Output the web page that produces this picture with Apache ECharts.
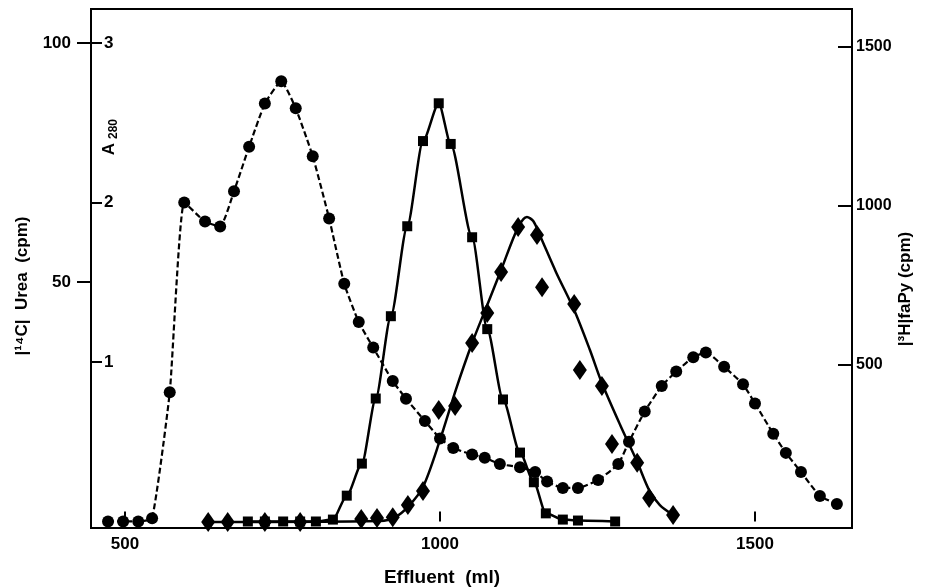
<!DOCTYPE html>
<html>
<head>
<meta charset="utf-8">
<script src="https://cdn.jsdelivr.net/npm/echarts@6/dist/echarts.min.js"></script>
<style>
  html, body { margin: 0; padding: 0; background: #fff; }
  #main-chart { width: 931px; height: 588px; }
</style>
</head>
<body>
<div id="main-chart"></div>
<script>
// effluent volumes (ml) and readings
var circleMl = [473, 497, 521, 543, 571, 594, 627, 651, 673, 697, 722, 748, 771, 798, 824, 848, 871, 894, 925, 946, 976, 1000, 1021, 1051, 1071, 1095, 1127, 1151, 1170, 1195, 1219, 1251, 1283, 1300, 1325, 1352, 1375, 1402, 1422, 1451, 1481, 1500, 1529, 1549, 1573, 1603, 1630];
var circleA280 = [0, 0, 0, 0.02, 0.81, 2.0, 1.88, 1.85, 2.07, 2.35, 2.62, 2.76, 2.59, 2.29, 1.90, 1.49, 1.25, 1.09, 0.88, 0.77, 0.63, 0.52, 0.46, 0.42, 0.40, 0.36, 0.34, 0.31, 0.25, 0.21, 0.21, 0.26, 0.36, 0.50, 0.69, 0.85, 0.94, 1.03, 1.06, 0.97, 0.86, 0.74, 0.55, 0.43, 0.31, 0.16, 0.11];

var squareMl = [695, 722, 751, 778, 803, 830, 852, 876, 898, 922, 948, 973, 998, 1017, 1051, 1075, 1100, 1127, 1149, 1168, 1195, 1219, 1278];
var squareCpm = [0, 0, 0, 0, 0, 0.4, 5.4, 12.1, 25.7, 42.9, 61.7, 79.5, 87.4, 78.9, 59.4, 40.2, 25.5, 14.4, 8.2, 1.7, 0.4, 0.2, 0];

var diamondMl = [632, 663, 722, 778, 875, 900, 925, 949, 973, 998, 1024, 1051, 1075, 1097, 1124, 1154, 1162, 1213, 1222, 1257, 1273, 1313, 1332, 1370];
var diamondCpm = [5, 5, 5, 5, 14, 17, 20, 58, 102, 357, 370, 568, 663, 792, 933, 908, 744, 691, 483, 433, 250, 191, 80, 27];

// hand drawn curve through the diamonds
var fitMl = [632, 905, 929, 949, 973, 1000, 1025, 1051, 1075, 1097, 1124, 1138, 1148, 1159, 1184, 1213, 1238, 1257, 1286, 1313, 1332, 1349, 1370];
var fitCpm = [5, 8, 20, 52, 115, 263, 420, 568, 688, 798, 933, 965, 952, 905, 792, 672, 546, 442, 310, 194, 105, 58, 27];

var xTicks = [500, 1000, 1500];
var ureaTicks = [50, 100];
var a280Ticks = [1, 2, 3];
var fapyTicks = [500, 1000, 1500];

function pairs(xs, ys) {
    var out = [];
    for (var i = 0; i < xs.length; i++) {
        out.push([xs[i], ys[i]]);
    }
    return out;
}

function plain(v) {
    return String(v);
}

var labelFont = {color: '#000', fontFamily: 'Liberation Sans', fontWeight: 'bold', fontSize: 17, formatter: plain};
var textBase = {fill: '#000', textAlign: 'center', textVerticalAlign: 'middle', align: 'center', verticalAlign: 'middle'};

function label(x, y, rot, text, font) {
    return {
        type: 'text', x: x, y: y, rotation: rot,
        style: Object.assign({text: text, font: font}, textBase)
    };
}

var myChart = echarts.init(document.getElementById('main-chart'));

var option = {
    animation: false,
    backgroundColor: '#fff',
    grid: {
        left: 91, right: 79, top: 9, bottom: 60,
        show: true, borderColor: '#000', borderWidth: 2, backgroundColor: 'transparent'
    },
    xAxis: {
        type: 'value', min: 446, max: 1654,
        axisLine: {show: false},
        splitLine: {show: false},
        axisTick: {show: true, inside: true, length: 10, customValues: xTicks, lineStyle: {color: '#000', width: 2}},
        axisLabel: Object.assign({customValues: xTicks, margin: 8}, labelFont)
    },
    yAxis: [
        {
            // |14C| urea, outer left scale
            type: 'value', position: 'left', min: -1.36, max: 107.1,
            axisLine: {show: false},
            splitLine: {show: false},
            axisTick: {show: true, inside: false, length: 14, customValues: ureaTicks, lineStyle: {color: '#000', width: 2}},
            axisLabel: Object.assign({customValues: ureaTicks, margin: 20}, labelFont)
        },
        {
            // A280, inner left scale
            type: 'value', position: 'left', min: -0.041, max: 3.213,
            axisLine: {show: false},
            splitLine: {show: false},
            axisTick: {show: true, inside: true, length: 11, customValues: a280Ticks, lineStyle: {color: '#000', width: 2}},
            axisLabel: Object.assign({customValues: a280Ticks, inside: true, margin: 13}, labelFont)
        },
        {
            // |3H| faPy, right scale
            type: 'value', position: 'right', min: -14.2, max: 1619.6,
            axisLine: {show: false},
            splitLine: {show: false},
            axisTick: {show: true, inside: true, length: 14, customValues: fapyTicks, lineStyle: {color: '#000', width: 2}},
            axisLabel: Object.assign({customValues: fapyTicks, margin: 4}, labelFont, {fontSize: 16})
        }
    ],
    graphic: [
        label(22, 286, Math.PI / 2, '|¹⁴C|  Urea  (cpm)', 'bold 17px "Liberation Sans"'),
        label(109, 149, Math.PI / 2, 'A', 'bold 17px "Liberation Sans"'),
        label(114, 129, Math.PI / 2, '280', 'bold 12px "Liberation Sans"'),
        label(905, 289, Math.PI / 2, '|³H|faPy (cpm)', 'bold 17px "Liberation Sans"'),
        label(442, 578, 0, 'Effluent  (ml)', 'bold 19px "Liberation Sans"')
    ],
    series: [
        {
            name: 'urea', type: 'line', yAxisIndex: 0,
            data: pairs(squareMl, squareCpm),
            smooth: 0.25, smoothMonotone: 'x',
            symbol: 'rect', symbolSize: 10,
            itemStyle: {color: '#000', opacity: 1},
            lineStyle: {color: '#000', width: 2.5}
        },
        {
            name: 'fit', type: 'line', yAxisIndex: 2,
            data: pairs(fitMl, fitCpm),
            smooth: 0.3,
            showSymbol: false, symbol: 'none',
            lineStyle: {color: '#000', width: 2.5}
        },
        {
            name: 'faPy', type: 'scatter', yAxisIndex: 2,
            data: pairs(diamondMl, diamondCpm),
            symbol: 'diamond', symbolSize: [14, 20],
            itemStyle: {color: '#000', opacity: 1}
        },
        {
            name: 'A280', type: 'line', yAxisIndex: 1,
            data: pairs(circleMl, circleA280),
            smooth: 0.15,
            symbol: 'circle', symbolSize: 12,
            itemStyle: {color: '#000', opacity: 1},
            lineStyle: {color: '#000', width: 2.2, type: [6, 3]}
        }
    ]
};

myChart.setOption(option);
</script>
</body>
</html>
